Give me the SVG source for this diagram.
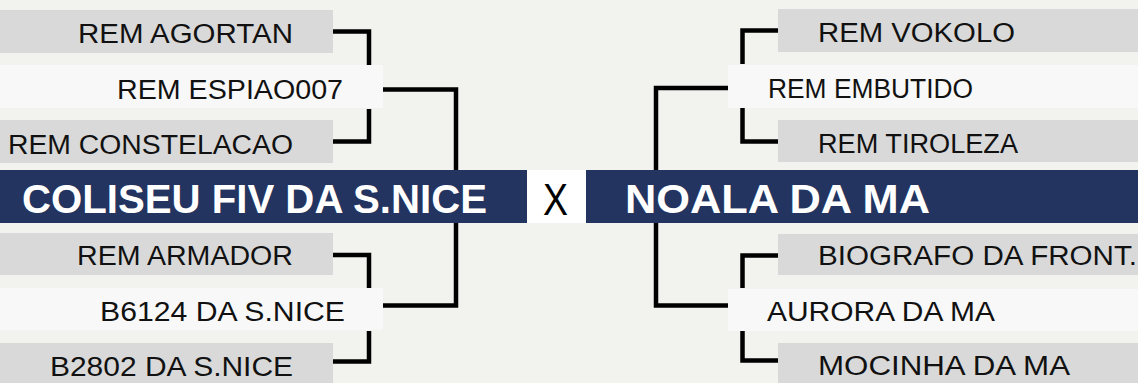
<svg xmlns="http://www.w3.org/2000/svg" width="1138" height="383" viewBox="0 0 1138 383">
<defs>
<style>
.bg{fill:#f2f2ee}
.gray{fill:#d9d9d9}
.light{fill:#f8f8f8}
.team{fill:#22345f}
.lbl{font-family:"Liberation Sans",Arial,sans-serif;font-size:27px;fill:#111}
.tlbl{font-family:"Liberation Sans",Arial,sans-serif;font-size:41px;font-weight:bold;fill:#fff}
.end{text-anchor:end}
.conn{fill:none;stroke:#000;stroke-width:4.5;stroke-linejoin:miter;stroke-linecap:butt}
</style>
</defs>
<rect class="bg" x="0" y="0" width="1138" height="383"/>
<g id="connectors">
<path class="conn" d="M333 31.5H369V65"/>
<path class="conn" d="M369 109V141.5H333"/>
<path class="conn" d="M383 89.5H456V305.5H383"/>
<path class="conn" d="M333 255H369V288"/>
<path class="conn" d="M369 331V361.5H333"/>
<path class="conn" d="M778 30.5H742.5V64"/>
<path class="conn" d="M742.5 108V141.5H778"/>
<path class="conn" d="M728 88H656V305.5H728"/>
<path class="conn" d="M778 255.5H742.5V288"/>
<path class="conn" d="M742.5 331V360.5H778"/>
</g>
<g id="rem-agortan"><rect class="gray" x="0" y="10" width="333" height="43"/><text class="lbl end" x="293" y="43" textLength="215" lengthAdjust="spacingAndGlyphs">REM AGORTAN</text></g>
<g id="rem-espiao007"><rect class="light" x="0" y="65" width="383" height="43"/><text class="lbl end" x="343" y="99" textLength="226" lengthAdjust="spacingAndGlyphs">REM ESPIAO007</text></g>
<g id="rem-constelacao"><rect class="gray" x="0" y="120" width="333" height="43"/><text class="lbl end" x="293" y="154" textLength="285" lengthAdjust="spacingAndGlyphs">REM CONSTELACAO</text></g>
<g id="team-left"><rect class="team" x="0" y="170" width="527" height="53"/><text class="tlbl" x="22" y="213" textLength="465" lengthAdjust="spacingAndGlyphs">COLISEU FIV DA S.NICE</text></g>
<g id="versus"><rect x="527" y="170" width="59" height="53" fill="#fff"/><text x="555.5" y="215" text-anchor="middle" font-family="Liberation Sans,Arial,sans-serif" font-size="45" fill="#000" textLength="25" lengthAdjust="spacingAndGlyphs">X</text></g>
<g id="rem-armador"><rect class="gray" x="0" y="233" width="333" height="42"/><text class="lbl end" x="293" y="265" textLength="216" lengthAdjust="spacingAndGlyphs">REM ARMADOR</text></g>
<g id="b6124"><rect class="light" x="0" y="288" width="383" height="42"/><text class="lbl end" x="345" y="321" textLength="245" lengthAdjust="spacingAndGlyphs">B6124 DA S.NICE</text></g>
<g id="b2802"><rect class="gray" x="0" y="343" width="333" height="43"/><text class="lbl end" x="293" y="376" textLength="243" lengthAdjust="spacingAndGlyphs">B2802 DA S.NICE</text></g>
<g id="rem-vokolo"><rect class="gray" x="778" y="9" width="360" height="43"/><text class="lbl" x="818" y="42" textLength="197" lengthAdjust="spacingAndGlyphs">REM VOKOLO</text></g>
<g id="rem-embutido"><rect class="light" x="728" y="65" width="410" height="43"/><text class="lbl" x="768" y="98" textLength="205" lengthAdjust="spacingAndGlyphs">REM EMBUTIDO</text></g>
<g id="rem-tiroleza"><rect class="gray" x="778" y="120" width="360" height="42"/><text class="lbl" x="818" y="153" textLength="200" lengthAdjust="spacingAndGlyphs">REM TIROLEZA</text></g>
<g id="team-right"><rect class="team" x="586" y="170" width="552" height="53"/><text class="tlbl" x="625" y="213" textLength="305" lengthAdjust="spacingAndGlyphs">NOALA DA MA</text></g>
<g id="biografo"><rect class="gray" x="778" y="234" width="360" height="41"/><text class="lbl" x="818" y="265" textLength="319" lengthAdjust="spacingAndGlyphs">BIOGRAFO DA FRONT.</text></g>
<g id="aurora"><rect class="light" x="728" y="289" width="410" height="42"/><text class="lbl" x="767" y="321" textLength="228" lengthAdjust="spacingAndGlyphs">AURORA DA MA</text></g>
<g id="mocinha"><rect class="gray" x="778" y="343" width="360" height="43"/><text class="lbl" x="818" y="375" textLength="252" lengthAdjust="spacingAndGlyphs">MOCINHA DA MA</text></g>
</svg>
